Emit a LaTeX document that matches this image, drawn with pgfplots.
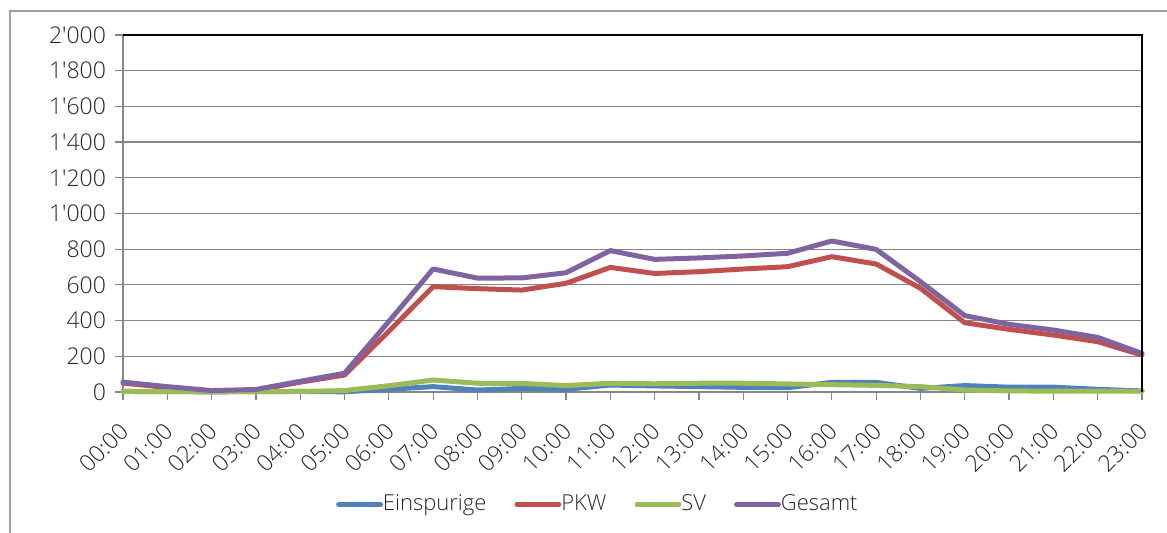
\documentclass[border=0pt]{standalone}
\usepackage{fontspec}
\setmainfont{Open Sans Light}
\usepackage{pgfplots}
\pgfplotsset{compat=1.18}
\usepackage{pgfplotstable}
\definecolor{cBlue}{HTML}{4F81BD}
\definecolor{cRed}{HTML}{C0504D}
\definecolor{cGreen}{HTML}{9BBB59}
\definecolor{cPurple}{HTML}{8064A2}
\definecolor{cGrid}{HTML}{868686}
\definecolor{cFrame}{HTML}{A0A0A0}
\pgfplotstableread{
h E P S G
0 3 50 3 55
1 2 25 2 30
2 1 5 1 8
3 2 10 2 14
4 3 55 3 60
5 1 95 8 105
6 15 340 35 395
7 30 590 67 689
8 11 579 49 638
9 20 571 48 639
10 15 609 36 668
11 39 698 49 792
12 34 664 46 743
13 30 674 49 751
14 26 689 49 762
15 24 702 45 777
16 54 758 41 846
17 54 717 37 799
18 20 581 30 618
19 36 388 11 428
20 27 351 6 379
21 27 319 5 347
22 15 282 5 306
23 6 207 5 216
}\data
\begin{document}
\begin{tikzpicture}
\useasboundingbox (-61.5pt,-70.5pt) rectangle (522pt,196pt);
\draw[cFrame, line width=0.75pt] (-56.5pt,-71pt) -- (-56.5pt,190.5pt) -- (523pt,190.5pt);
\begin{axis}[
  at={(0pt,0pt)}, anchor=south west,
  scale only axis, width=509.5pt, height=178.5pt,
  xmin=0, xmax=23, ymin=0, ymax=2000,
  clip=false,
  xtick={0,...,23},
  xticklabels={00:00,01:00,02:00,03:00,04:00,05:00,06:00,07:00,08:00,09:00,10:00,11:00,12:00,13:00,14:00,15:00,16:00,17:00,18:00,19:00,20:00,21:00,22:00,23:00},
  ytick distance=200,
  tick align=outside,
  major tick length=4pt,
  tick style={cGrid, line width=0.6pt},
  ymajorgrids,
  grid style={cGrid, line width=0.6pt},
  axis line style={line width=0.75pt},
  axis x line*=bottom, axis y line*=left,
  x axis line style={cGrid}, y axis line style={cGrid},
  xtick pos=bottom, ytick pos=left,
  /pgf/number format/assume math mode=true,
  /pgf/number format/1000 sep={\textquotesingle},
  tick label style={font=\fontsize{11.5}{13}\selectfont, text=black!85},
  xticklabel style={anchor=east, xshift=3pt, yshift=-11pt, rotate=45},
  yticklabel style={xshift=-1pt},
  legend columns=4,
  legend style={draw=none, fill=none, at={(0.467,-0.315)}, anchor=center,
    font=\fontsize{11}{13}\selectfont, text=black!85,
    /tikz/every even column/.append style={column sep=12pt},
    /tikz/every odd column/.append style={column sep=-2pt}},
  legend image code/.code={\draw[line width=2.4pt, line cap=round] (0pt,0pt) -- (21pt,0pt);},
  every axis plot/.append style={line width=2.5pt, line join=round, line cap=round},
]
\addplot[cBlue] table[x=h, y=E] {\data};
\addplot[cRed] table[x=h, y=P] {\data};
\addplot[cGreen] table[x=h, y=S] {\data};
\addplot[cPurple] table[x=h, y=G] {\data};
\legend{Einspurige, PKW, SV, Gesamt}
\draw[black, line width=0.75pt] (rel axis cs:0,1) -- (rel axis cs:1,1) -- (rel axis cs:1,0);
\end{axis}
\end{tikzpicture}
\end{document}
